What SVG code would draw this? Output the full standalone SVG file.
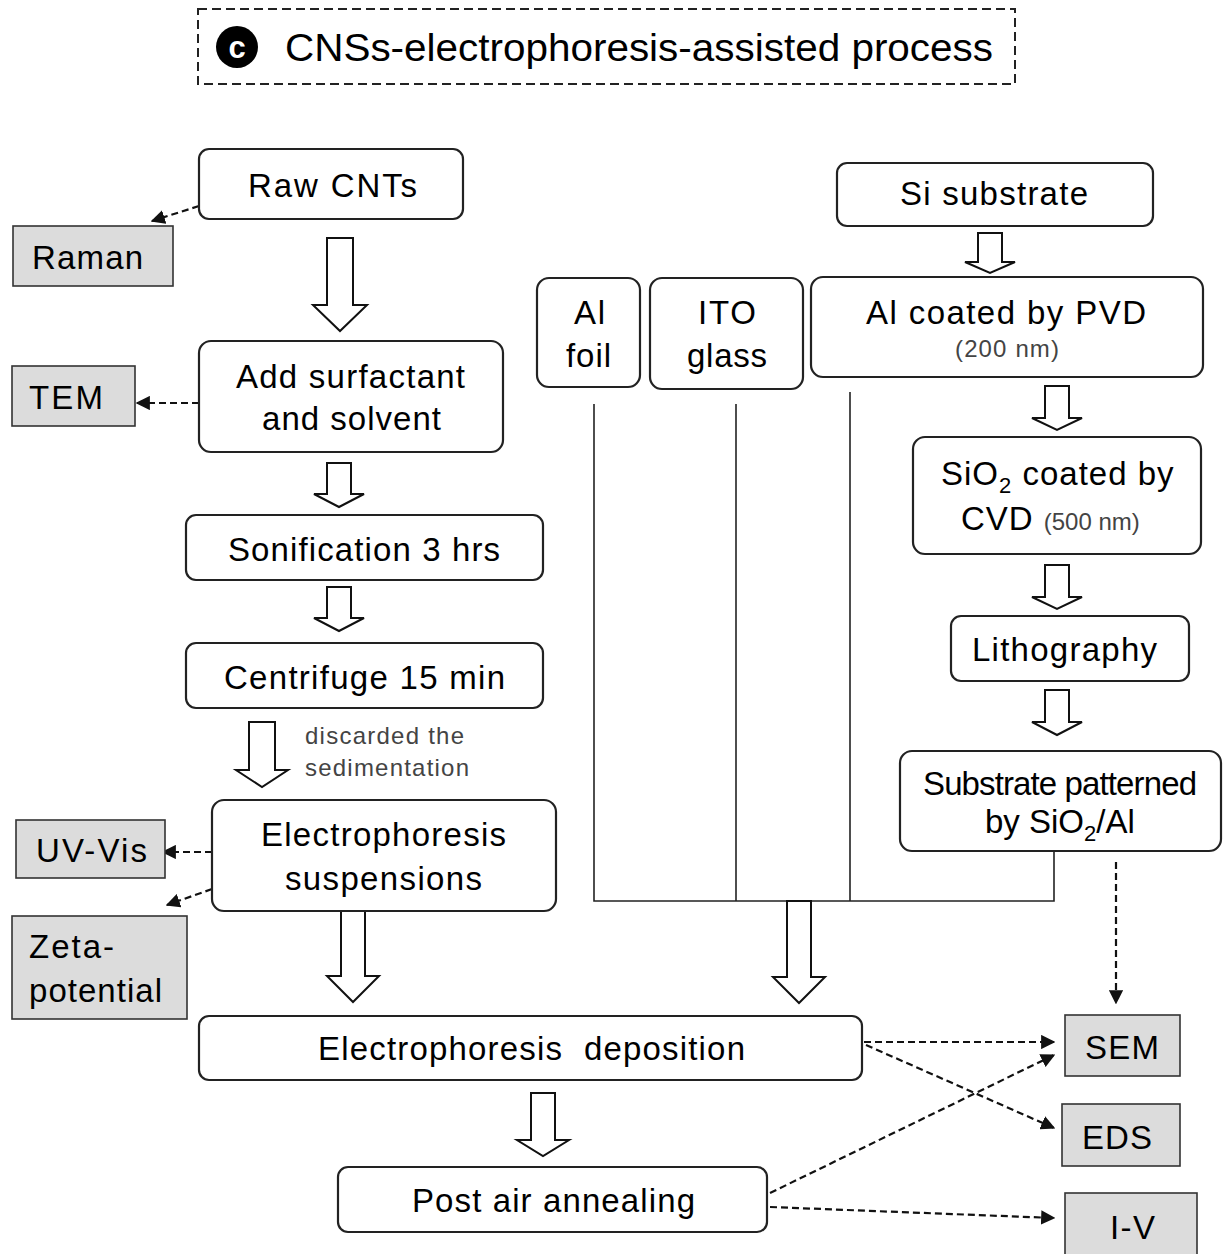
<svg xmlns="http://www.w3.org/2000/svg" width="1227" height="1254" viewBox="0 0 1227 1254">
<defs>
<style>
.box{fill:#fff;stroke:#222;stroke-width:2.2}
.gbox{fill:#dcdcdc;stroke:#333;stroke-width:1.6}
.t{font-family:"Liberation Sans",Arial,sans-serif;font-size:33px;fill:#000}
.s{font-family:"Liberation Sans",Arial,sans-serif;font-size:24px;fill:#444}
.blk{fill:#fff;stroke:#111;stroke-width:2}
.ln{fill:none;stroke:#222;stroke-width:1.6}
.dash{fill:none;stroke:#111;stroke-width:2.2;stroke-dasharray:7 4}
</style>
<marker id="ah" viewBox="0 0 10 10" refX="9" refY="5" markerWidth="6.5" markerHeight="6.5" markerUnits="strokeWidth" orient="auto">
<path d="M0,0 L10,5 L0,10 Z" fill="#111"/>
</marker>
</defs>
<rect width="1227" height="1254" fill="#fff"/>

<g id="title">
<rect x="198" y="9" width="817" height="75" fill="none" stroke="#222" stroke-width="2" stroke-dasharray="9 5"/>
<circle cx="237" cy="47" r="21" fill="#000"/>
<text x="237" y="58" text-anchor="middle" font-family="Liberation Sans,Arial,sans-serif" font-size="31" font-weight="bold" fill="#fff">c</text>
<text x="285" y="61" font-family="Liberation Sans,Arial,sans-serif" font-size="38" textLength="708" lengthAdjust="spacingAndGlyphs" fill="#000">CNSs-electrophoresis-assisted process</text>
</g>

<g id="connectors">
<path class="blk" d="M327,238 H353 V305 H367 L340,331 L313,305 H327 Z"/>
<path class="blk" d="M327,463 H351 V494 H364 L339,507 L314,494 H327 Z"/>
<path class="blk" d="M327,587 H351 V618 H364 L339,631 L314,618 H327 Z"/>
<path class="blk" d="M249,722 H275 V770 H288 L262,787 L236,770 H249 Z"/>
<path class="blk" d="M341,911 H365 V976 H379 L353,1002 L327,976 H341 Z"/>
<path class="ln" d="M594,404 V901 H1054 V851 M736,404 V901 M850,392 V901"/>
<path class="blk" d="M787,901 H811 V977 H825 L799,1003 L773,977 H787 Z"/>
<path class="blk" d="M531,1093 H555 V1140 H569 L543,1156 L517,1140 H531 Z"/>
<path class="blk" d="M978,233 H1002 V262 H1015 L990,273 L965,262 H978 Z"/>
<path class="blk" d="M1045,386 H1069 V418 H1082 L1057,430 L1032,418 H1045 Z"/>
<path class="blk" d="M1045,565 H1069 V597 H1082 L1057,609 L1032,597 H1045 Z"/>
<path class="blk" d="M1045,690 H1069 V722 H1082 L1057,735 L1032,722 H1045 Z"/>
<path class="dash" marker-end="url(#ah)" d="M199,206 L152,221"/>
<path class="dash" marker-end="url(#ah)" d="M199,403 L137,403"/>
<path class="dash" marker-end="url(#ah)" d="M212,852 L163,852"/>
<path class="dash" marker-end="url(#ah)" d="M212,889 L167,905"/>
<path class="dash" marker-end="url(#ah)" d="M1116,862 L1116,1003"/>
<path class="dash" marker-end="url(#ah)" d="M864,1042 L1054,1042"/>
<path class="dash" marker-end="url(#ah)" d="M866,1045 L1054,1128"/>
<path class="dash" marker-end="url(#ah)" d="M770,1193 L1054,1055"/>
<path class="dash" marker-end="url(#ah)" d="M770,1207 L1054,1218"/>
</g>

<g id="raw-cnts">
<rect class="box" x="199" y="149" width="264" height="70" rx="10"/>
<text class="t" x="248" y="197" textLength="169" lengthAdjust="spacing">Raw CNTs</text>
</g>
<g id="raman">
<rect class="gbox" x="13" y="226" width="160" height="60"/>
<text class="t" x="32" y="269" textLength="111" lengthAdjust="spacing">Raman</text>
</g>
<g id="add-surfactant">
<rect class="box" x="199" y="341" width="304" height="111" rx="12"/>
<text class="t" x="236" y="388" textLength="229" lengthAdjust="spacing">Add surfactant</text>
<text class="t" x="262" y="430" textLength="179" lengthAdjust="spacing">and solvent</text>
</g>
<g id="tem">
<rect class="gbox" x="12" y="366" width="123" height="60"/>
<text class="t" x="29" y="409" textLength="74" lengthAdjust="spacing">TEM</text>
</g>
<g id="sonification">
<rect class="box" x="186" y="515" width="357" height="65" rx="10"/>
<text class="t" x="228" y="561" textLength="272" lengthAdjust="spacing">Sonification 3 hrs</text>
</g>
<g id="centrifuge">
<rect class="box" x="186" y="643" width="357" height="65" rx="10"/>
<text class="t" x="224" y="689" textLength="281" lengthAdjust="spacing">Centrifuge 15 min</text>
</g>
<g id="discarded-label">
<text class="s" x="305" y="744" textLength="159" lengthAdjust="spacing">discarded the</text>
<text class="s" x="305" y="776" textLength="164" lengthAdjust="spacing">sedimentation</text>
</g>
<g id="suspensions">
<rect class="box" x="212" y="800" width="344" height="111" rx="12"/>
<text class="t" x="261" y="846" textLength="245" lengthAdjust="spacing">Electrophoresis</text>
<text class="t" x="285" y="890" textLength="197" lengthAdjust="spacing">suspensions</text>
</g>
<g id="uv-vis">
<rect class="gbox" x="16" y="820" width="149" height="58"/>
<text class="t" x="36" y="862" textLength="111" lengthAdjust="spacing">UV-Vis</text>
</g>
<g id="zeta">
<rect class="gbox" x="12" y="916" width="175" height="103"/>
<text class="t" x="29" y="958" textLength="85" lengthAdjust="spacing">Zeta-</text>
<text class="t" x="29" y="1002" textLength="133" lengthAdjust="spacing">potential</text>
</g>
<g id="deposition">
<rect class="box" x="199" y="1016" width="663" height="64" rx="10"/>
<text class="t" x="318" y="1060" textLength="427" lengthAdjust="spacing" xml:space="preserve">Electrophoresis  deposition</text>
</g>
<g id="annealing">
<rect class="box" x="338" y="1167" width="429" height="65" rx="10"/>
<text class="t" x="412" y="1212" textLength="283" lengthAdjust="spacing">Post air annealing</text>
</g>
<g id="si-substrate">
<rect class="box" x="837" y="163" width="316" height="63" rx="10"/>
<text class="t" x="900" y="205" textLength="188" lengthAdjust="spacing">Si substrate</text>
</g>
<g id="al-foil">
<rect class="box" x="537" y="278" width="103" height="109" rx="12"/>
<text class="t" x="574" y="324" textLength="31" lengthAdjust="spacing">Al</text>
<text class="t" x="566" y="367" textLength="45" lengthAdjust="spacing">foil</text>
</g>
<g id="ito-glass">
<rect class="box" x="650" y="278" width="153" height="111" rx="12"/>
<text class="t" x="698" y="324" textLength="58" lengthAdjust="spacing">ITO</text>
<text class="t" x="687" y="367" textLength="80" lengthAdjust="spacing">glass</text>
</g>
<g id="al-pvd">
<rect class="box" x="811" y="277" width="392" height="100" rx="12"/>
<text class="t" x="866" y="324" textLength="280" lengthAdjust="spacing">Al coated by PVD</text>
<text class="s" x="955" y="357" textLength="104" lengthAdjust="spacing">(200 nm)</text>
</g>
<g id="sio2-cvd">
<rect class="box" x="913" y="437" width="288" height="117" rx="12"/>
<text class="t" x="941" y="485" letter-spacing="1">SiO<tspan font-size="22" dy="8">2</tspan><tspan dy="-8"> coated by</tspan></text>
<text class="t" x="961" y="530" letter-spacing="1">CVD<tspan class="s" dx="10" letter-spacing="0">(500 nm)</tspan></text>
</g>
<g id="lithography">
<rect class="box" x="951" y="616" width="238" height="65" rx="10"/>
<text class="t" x="972" y="661" textLength="185" lengthAdjust="spacing">Lithography</text>
</g>
<g id="patterned">
<rect class="box" x="900" y="751" width="321" height="100" rx="12"/>
<text class="t" x="923" y="795" textLength="274" lengthAdjust="spacing">Substrate patterned</text>
<text class="t" x="985" y="833">by SiO<tspan font-size="22" dy="8">2</tspan><tspan dy="-8">/Al</tspan></text>
</g>
<g id="sem">
<rect class="gbox" x="1065" y="1015" width="115" height="61"/>
<text class="t" x="1085" y="1059" textLength="74" lengthAdjust="spacing">SEM</text>
</g>
<g id="eds">
<rect class="gbox" x="1062" y="1104" width="118" height="62"/>
<text class="t" x="1082" y="1149" textLength="70" lengthAdjust="spacing">EDS</text>
</g>
<g id="iv">
<rect class="gbox" x="1065" y="1193" width="132" height="70"/>
<text class="t" x="1110" y="1239" textLength="45" lengthAdjust="spacing">I-V</text>
</g>
</svg>
